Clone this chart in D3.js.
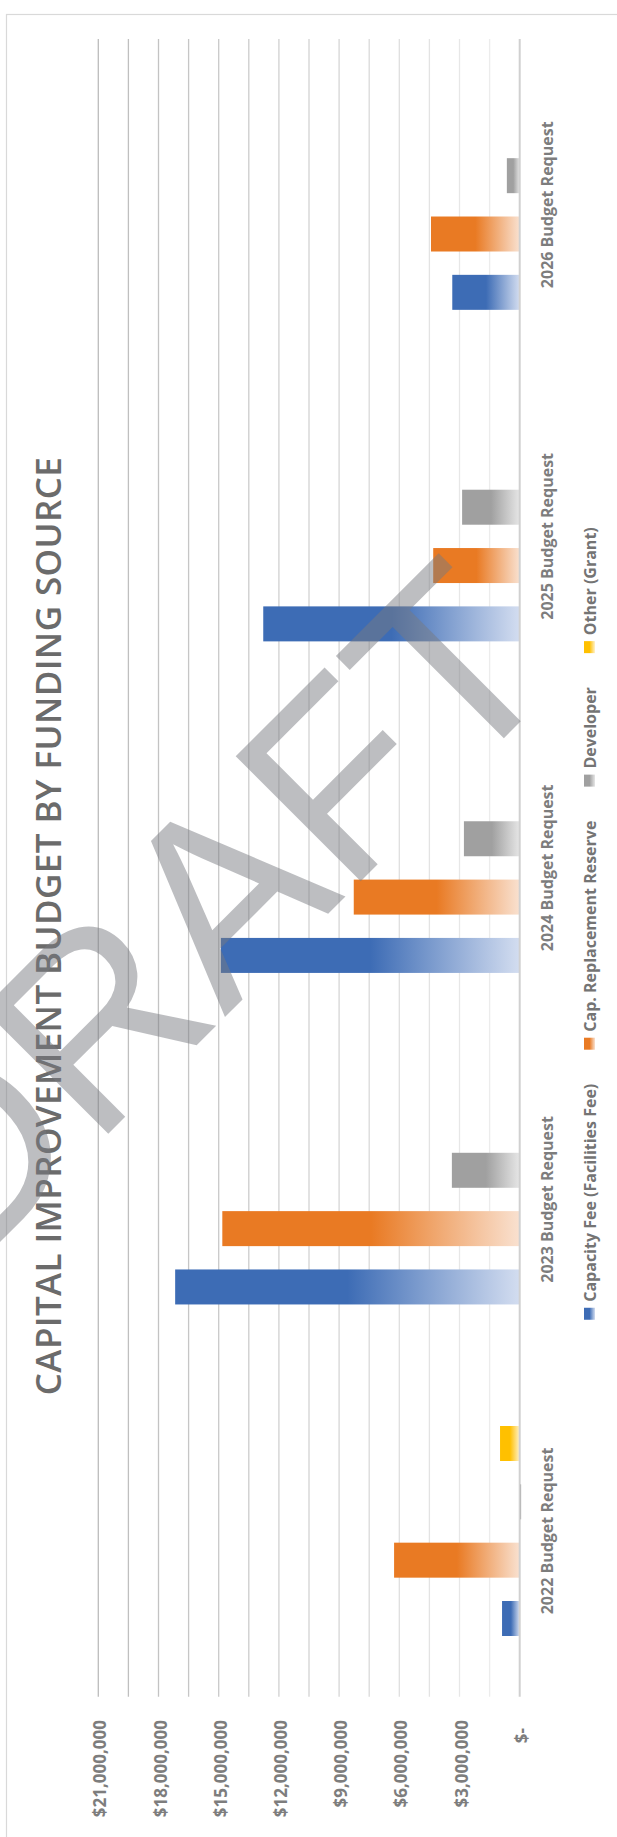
<!DOCTYPE html>
<html>
<head>
<meta charset="utf-8">
<script src="https://cdn.jsdelivr.net/npm/d3@7"></script>
<style>
  html, body { margin: 0; padding: 0; background: #fff; }
  svg { display: block; }
  text { font-family: "Open Sans", "Noto Sans", sans-serif; }
</style>
</head>
<body>
<svg id="chart" width="617" height="1837"></svg>
<script>
// ---- data ----
const categories = ["2022 Budget Request", "2023 Budget Request", "2024 Budget Request", "2025 Budget Request", "2026 Budget Request"];
const seriesNames = ["Capacity Fee (Facilities Fee)", "Cap. Replacement Reserve", "Developer", "Other (Grant)"];
const capacityFee    = [880000, 17170000, 14890000, 12780000, 3360000];
const capReplacement = [6260000, 14820000, 8270000, 4310000, 4420000];
const developer      = [-70000, 3380000, 2780000, 2870000, 640000];
const otherGrant     = [980000, 0, 0, 0, 0];
const tickValues = [0, 3000000, 6000000, 9000000, 12000000, 15000000, 18000000, 21000000];
const gridValues = [1500000, 3000000, 4500000, 6000000, 7500000, 9000000, 10500000, 12000000,
                    13500000, 15000000, 16500000, 18000000, 19500000, 21000000];
const titleText = "CAPITAL IMPROVEMENT BUDGET BY FUNDING SOURCE";
const watermarkText = "DRAFT";

const seriesValues = [capacityFee, capReplacement, developer, otherGrant];
const solidColors = ["#3d6cb5", "#e97a23", "#a0a0a0", "#ffc000"];
const lightColors = ["#d3ddf0", "#f9e1d0", "#e6e6e6", "#fff2cc"];

// ---- canvas ----
const W = 617, H = 1837;
const svg = d3.select("#chart");

// gradient fills: solid at the bar tip, fading toward the baseline
const defs = svg.append("defs");
seriesNames.forEach((s, i) => {
  const lg = defs.append("linearGradient")
    .attr("id", "fill" + i)
    .attr("x1", 0).attr("y1", 0).attr("x2", 0).attr("y2", 1);
  lg.append("stop").attr("offset", "0").attr("stop-color", solidColors[i]);
  lg.append("stop").attr("offset", "0.5").attr("stop-color", solidColors[i]);
  lg.append("stop").attr("offset", "1").attr("stop-color", lightColors[i]);
});

// chart-area frame
svg.append("rect")
  .attr("x", 6.5).attr("y", 14.5)
  .attr("width", 700).attr("height", 1900)
  .attr("fill", "none").attr("stroke", "#d9d9d9").attr("stroke-width", 1.2);

// the column chart is laid out landscape and turned a quarter turn
const g = svg.append("g").attr("transform", `translate(0,${H}) rotate(-90)`);

const plotLeft = 140.3, plotRight = 1798;
const x0 = d3.scaleBand().domain(categories).range([plotLeft, plotRight]);
const x1 = d3.scaleBand().domain(seriesNames)
  .range([60.7, 270.7]).paddingInner(0.4);
const y = d3.scaleLinear().domain([0, 21000000]).range([519.7, 98.3]);

// gridlines
const gridColor = d3.scaleLinear()
  .domain([0, 9000000, 21000000])
  .range(["#f0f0f0", "#d6d6d6", "#bcbcbc"]);
g.append("g").selectAll("line")
  .data(gridValues)
  .join("line")
  .attr("x1", plotLeft).attr("x2", plotRight)
  .attr("y1", d => y(d)).attr("y2", d => y(d))
  .attr("stroke", d => gridColor(d))
  .attr("stroke-width", 1.3);

// value axis labels
const fmt = d => d === 0 ? "$-" : "$" + d3.format(",")(d);
const axis = d3.axisLeft(y).tickValues(tickValues).tickFormat(fmt)
  .tickSize(0).tickPadding(23.3);
const axisG = g.append("g").attr("transform", `translate(${plotLeft},0)`).call(axis);
axisG.select(".domain").remove();
axisG.selectAll("text")
  .attr("dy", "0.45em")
  .attr("x", d => d === 0 ? -31.3 : -23.3)
  .style("font-family", "'Open Sans', sans-serif")
  .style("font-size", "17px")
  .style("font-weight", 700)
  .attr("fill", "#7d7d7d");

// bars
const barData = [];
categories.forEach((c, i) => {
  seriesNames.forEach((s, j) => {
    barData.push({ cat: c, series: s, idx: j, value: seriesValues[j][i] });
  });
});
g.append("g").selectAll("rect")
  .data(barData)
  .join("rect")
  .attr("x", d => x0(d.cat) + x1(d.series))
  .attr("width", x1.bandwidth())
  .attr("y", d => y(Math.max(d.value, 0)))
  .attr("height", d => Math.abs(y(d.value) - y(0)))
  .attr("fill", d => d.value < 0 ? "#8a8a8a" : `url(#fill${d.idx})`);

// baseline
g.append("line")
  .attr("x1", plotLeft).attr("x2", plotRight)
  .attr("y1", y(0)).attr("y2", y(0))
  .attr("stroke", "#d0d0d0").attr("stroke-width", 2);

// category labels
g.append("g").selectAll("text")
  .data(categories)
  .join("text")
  .attr("x", d => x0(d) + x0.bandwidth() / 2)
  .attr("y", 552.5)
  .attr("text-anchor", "middle")
  .style("font-size", "16px")
  .style("font-weight", 700)
  .attr("fill", "#7d7d7d")
  .text(d => d);

// legend
const legend = g.append("g");
const items = legend.selectAll("g")
  .data(seriesNames)
  .join("g");
items.append("rect")
  .attr("y", 584).attr("width", 12).attr("height", 11)
  .attr("fill", (d, i) => `url(#fill${i})`);
items.append("text")
  .attr("x", 18).attr("y", 596)
  .style("font-size", "16px")
  .style("font-weight", 700)
  .attr("fill", "#747474")
  .text(d => d);
const widths = [];
items.select("text").each(function () { widths.push(this.getComputedTextLength()); });
const itemGap = 34;
const total = d3.sum(widths.map(w => 18 + w)) + itemGap * (widths.length - 1);
let cursor = 913.5 - total / 2;
items.attr("transform", (d, i) => {
  const t = `translate(${cursor},0)`;
  cursor += 18 + widths[i] + itemGap;
  return t;
});

// title
g.append("text")
  .attr("x", 911).attr("y", 61)
  .attr("text-anchor", "middle")
  .style("font-size", "35px")
  .style("font-weight", 600)
  .style("letter-spacing", "0.4px")
  .attr("fill", "#6b6b6b")
  .text(titleText);

// diagonal watermark over the whole chart
svg.append("text")
  .attr("transform", "translate(265,977) rotate(-45)")
  .attr("text-anchor", "middle")
  .style("font-family", "'Liberation Sans', Arial, sans-serif")
  .style("font-size", "257px")
  .attr("fill", "#787a80")
  .attr("fill-opacity", 0.49)
  .text(watermarkText);
</script>
</body>
</html>
